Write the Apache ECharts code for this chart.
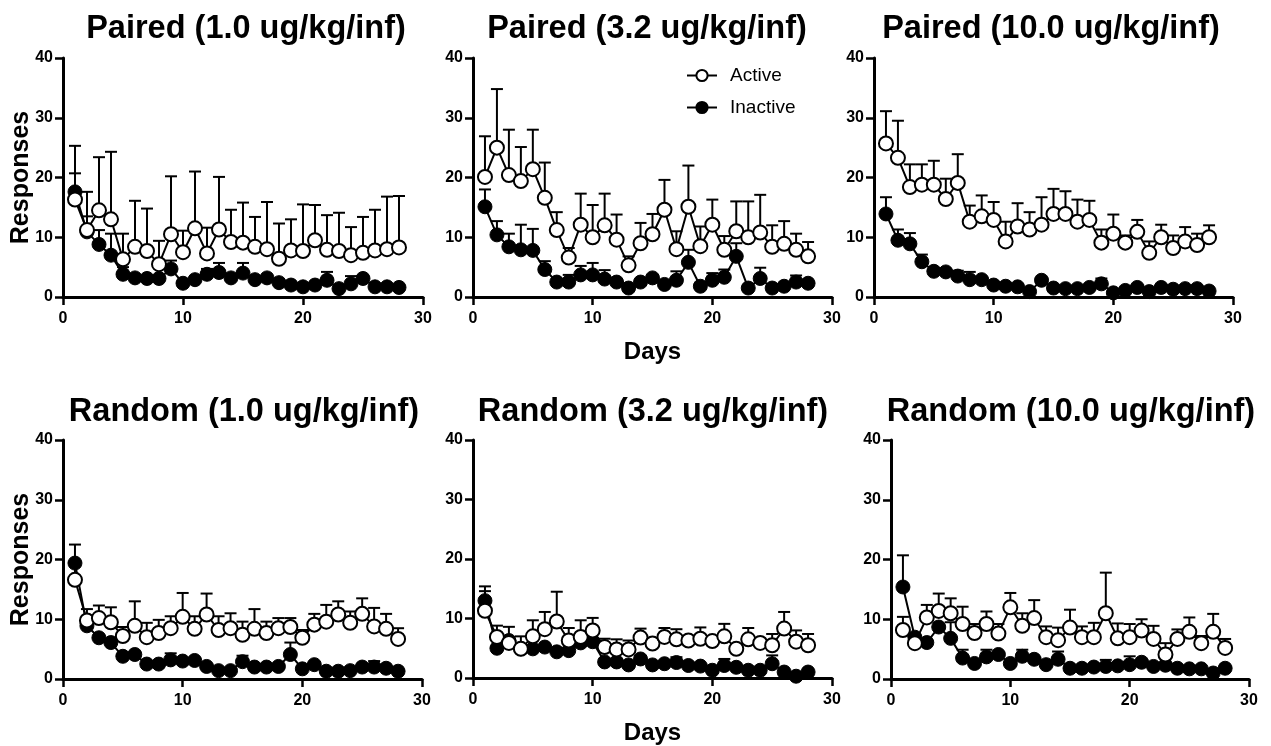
<!DOCTYPE html>
<html><head><meta charset="utf-8">
<script src="https://cdn.jsdelivr.net/npm/echarts@6/dist/echarts.min.js"></script>
<style>html,body{margin:0;padding:0;background:#fff}#c{width:1271px;height:746px}</style>
</head><body><div id="c"></div>
<script>
const days = [1,2,3,4,5,6,7,8,9,10,11,12,13,14,15,16,17,18,19,20,21,22,23,24,25,26,27,28];
const titles = ["Paired (1.0 ug/kg/inf)","Paired (3.2 ug/kg/inf)","Paired (10.0 ug/kg/inf)","Random (1.0 ug/kg/inf)","Random (3.2 ug/kg/inf)","Random (10.0 ug/kg/inf)"];
const yTicks = [0,10,20,30,40];
const xTicks = [0,10,20,30];

const p1Active    = [16.3,11.2,14.5,13.0,6.3,8.4,7.7,5.5,10.5,7.5,11.5,7.3,11.3,9.2,9.1,8.4,8.0,6.4,7.8,7.7,9.5,7.9,7.7,7.0,7.4,7.8,8.0,8.3];
const p1ActiveTop = [25.3,17.6,23.4,24.3,10.6,16.1,14.8,9.4,20.2,11.1,21.0,11.6,20.1,14.6,15.8,13.4,15.9,12.3,13.0,15.5,15.4,13.7,14.1,11.7,13.4,14.6,16.8,16.9];
const p1Inactive    = [17.6,10.9,8.8,7.0,3.8,3.2,3.1,3.1,4.7,2.3,2.9,3.8,4.1,3.2,4.0,2.9,3.2,2.4,2.0,1.7,2.0,2.8,1.4,2.2,3.1,1.7,1.7,1.6];
const p1InactiveTop = [20.7,13.5,11.2,10.6,5.0,3.6,3.5,3.5,6.1,2.7,3.3,4.7,5.7,3.6,5.7,3.3,3.6,2.8,2.4,2.1,2.4,4.2,1.8,3.5,3.5,2.1,2.1,2.0];

const p2Active    = [20.1,25.0,20.4,19.4,21.4,16.6,11.2,6.6,12.1,10.0,12.0,9.6,5.3,9.0,10.5,14.6,8.0,15.1,8.5,12.1,7.9,11.0,10.0,10.8,8.4,8.9,7.9,6.8];
const p2ActiveTop = [26.9,34.8,28.0,25.1,28.0,22.5,14.2,8.2,17.3,15.4,17.3,13.8,6.8,12.4,13.9,19.6,11.0,22.0,11.8,16.3,10.2,16.0,16.0,17.1,12.0,12.7,10.6,9.2];
const p2Inactive    = [15.1,10.4,8.4,7.9,7.8,4.6,2.5,2.5,3.7,3.7,3.0,2.5,1.5,2.5,3.2,2.1,2.8,5.8,1.8,2.8,3.3,6.8,1.5,3.1,1.5,1.8,2.5,2.3];
const p2InactiveTop = [18.0,12.7,10.6,12.1,11.4,6.0,2.9,3.7,5.2,5.7,4.5,2.9,1.9,2.9,3.6,2.5,4.3,7.9,2.2,4.0,4.6,9.0,1.9,4.9,1.9,2.2,3.6,2.7];

const p3Active    = [25.7,23.3,18.4,18.8,18.8,16.4,19.1,12.6,13.5,12.9,9.3,11.8,11.3,12.1,13.9,13.9,12.6,12.9,9.1,10.6,9.1,10.9,7.4,10.0,8.2,9.3,8.7,10.0];
const p3ActiveTop = [31.1,29.5,22.2,22.2,22.8,19.8,23.9,15.3,17.0,15.9,12.6,15.7,14.2,16.7,18.1,17.7,16.3,16.1,11.3,13.8,10.3,12.9,9.3,12.1,10.3,11.7,10.6,12.0];
const p3Inactive    = [13.9,9.5,8.9,5.9,4.3,4.2,3.5,2.9,2.9,2.0,1.8,1.7,0.9,2.8,1.5,1.4,1.4,1.6,2.2,0.7,1.1,1.6,0.9,1.6,1.3,1.4,1.4,1.0];
const p3InactiveTop = [16.7,11.3,10.7,7.1,4.7,4.6,4.4,4.2,3.3,2.4,2.2,2.1,1.3,3.2,1.9,1.8,1.8,2.0,3.1,1.1,1.5,2.0,1.3,2.0,1.7,1.8,1.8,1.4];

const p4Active    = [16.6,9.8,10.2,9.5,7.2,8.9,7.0,7.7,8.5,10.4,8.4,10.8,8.2,8.5,7.4,8.4,7.7,8.5,8.7,6.9,9.1,9.6,10.8,9.4,10.9,8.8,8.4,6.7];
const p4ActiveTop = [19.5,11.7,12.3,12.0,8.7,13.0,9.4,9.9,10.5,14.4,10.5,14.3,10.5,11.0,9.6,11.7,9.6,10.2,10.2,8.2,10.9,12.4,13.0,11.3,13.5,11.9,10.9,8.5];
const p4Inactive    = [19.4,8.9,6.9,6.1,3.8,4.1,2.5,2.5,3.2,3.0,3.1,2.1,1.4,1.4,2.9,2.0,2.0,2.1,4.1,1.7,2.4,1.3,1.3,1.4,2.0,2.0,1.8,1.3];
const p4InactiveTop = [22.5,10.5,7.3,6.5,4.2,4.5,2.9,2.9,4.3,3.4,3.5,2.5,1.8,1.8,3.9,2.4,2.4,2.5,6.1,2.1,2.8,1.7,1.7,1.8,2.4,3.0,2.2,1.7];

const p5Active    = [11.3,6.9,5.9,4.9,7.0,8.2,9.5,6.3,6.9,8.0,5.2,4.8,4.8,6.8,5.8,6.9,6.5,6.3,6.6,6.2,7.0,4.9,6.5,5.9,5.5,8.3,6.1,5.5];
const p5ActiveTop = [15.4,8.8,8.6,7.0,9.7,11.1,14.5,8.4,9.7,10.1,6.6,6.5,6.3,8.3,6.5,8.4,8.2,7.0,8.5,6.8,9.1,5.5,8.4,6.6,7.4,11.1,8.0,7.4];
const p5Inactive    = [13.0,5.0,6.3,4.9,4.9,5.2,4.4,4.6,5.9,6.1,2.7,2.7,2.2,3.2,2.2,2.4,2.6,2.1,2.0,1.3,2.1,1.8,1.3,1.3,2.4,1.0,0.3,1.0];
const p5InactiveTop = [14.6,5.4,6.7,5.3,5.3,5.6,4.8,5.0,6.3,6.5,3.1,3.1,2.6,3.6,2.6,2.8,3.5,2.5,2.4,1.7,3.2,2.2,1.7,1.7,3.8,1.4,0.7,1.4];

const p6Active    = [8.2,6.0,10.3,11.4,11.0,9.2,7.7,9.2,7.6,12.0,8.9,10.2,7.0,6.5,8.6,7.0,7.0,11.0,6.8,7.0,8.1,6.7,4.1,6.7,7.9,6.0,7.9,5.2];
const p6ActiveTop = [10.4,7.1,12.4,14.3,13.5,12.1,9.2,11.3,9.2,14.4,11.0,13.2,8.8,8.6,11.6,8.8,9.4,17.8,9.3,9.2,10.0,8.9,6.0,8.3,10.3,7.2,10.9,6.7];
const p6Inactive    = [15.4,7.0,6.1,8.7,6.8,3.5,2.6,3.7,4.1,2.6,3.8,3.3,2.4,3.3,1.8,1.8,2.0,2.1,2.2,2.4,2.8,2.1,2.3,1.8,1.7,1.7,1.0,1.8];
const p6InactiveTop = [20.7,7.4,6.5,9.1,9.5,4.9,3.0,4.9,4.5,3.0,4.9,3.7,2.8,4.6,2.2,2.2,2.4,3.2,2.6,3.8,3.2,2.5,2.7,2.2,2.1,2.1,1.4,2.2];

const panels = [
  [p1Active,p1ActiveTop,p1Inactive,p1InactiveTop],
  [p2Active,p2ActiveTop,p2Inactive,p2InactiveTop],
  [p3Active,p3ActiveTop,p3Inactive,p3InactiveTop],
  [p4Active,p4ActiveTop,p4Inactive,p4InactiveTop],
  [p5Active,p5ActiveTop,p5Inactive,p5InactiveTop],
  [p6Active,p6ActiveTop,p6Inactive,p6InactiveTop]
];

const FONT = '"Liberation Sans", Arial, Helvetica, sans-serif';
const gridPos = [
  {left:63, top:58, width:360, height:239},
  {left:473, top:58, width:359, height:239},
  {left:874, top:58, width:359, height:239},
  {left:63, top:440, width:359, height:239},
  {left:473, top:440, width:359, height:239},
  {left:891, top:440, width:358, height:239}
];
const titlePos = [[246,13],[647,13],[1051,13],[244,396],[653,396],[1071,396]];

function errRender(params, api){
  const x = api.value(0), m = api.value(1), top = api.value(2);
  const p0 = api.coord([x, m]);
  const p1 = api.coord([x, top]);
  const style = {stroke:'#000', lineWidth:2, fill:null};
  return {type:'group', children:[
    {type:'line', shape:{x1:p0[0], y1:p0[1], x2:p1[0], y2:p1[1]}, style:style},
    {type:'line', shape:{x1:p1[0]-6, y1:p1[1], x2:p1[0]+6, y2:p1[1]}, style:style}
  ]};
}

const grids = [], xAxes = [], yAxes = [], series = [], titleArr = [];
panels.forEach((p, i) => {
  grids.push(Object.assign({containLabel:false}, gridPos[i]));
  const axisCommon = {
    axisLine:{show:true, onZero:false, lineStyle:{color:'#000', width:3}},
    axisTick:{show:true, length:8, lineStyle:{color:'#000', width:2.5}},
    splitLine:{show:false},
    axisLabel:{color:'#000', fontFamily:FONT, fontWeight:'bold', fontSize:16}
  };
  xAxes.push(Object.assign({}, axisCommon, {
    type:'value', gridIndex:i, min:xTicks[0], max:xTicks[xTicks.length-1], interval:10,
    axisLabel:Object.assign({}, axisCommon.axisLabel, {margin:14}),
    name: (i===1||i===4) ? 'Days' : '', nameLocation:'middle', nameGap:43,
    nameTextStyle:{color:'#000', fontFamily:FONT, fontWeight:'bold', fontSize:24}
  }));
  yAxes.push(Object.assign({}, axisCommon, {
    type:'value', gridIndex:i, min:yTicks[0], max:yTicks[yTicks.length-1], interval:10,
    axisLabel:Object.assign({}, axisCommon.axisLabel, {margin:10}),
    name: (i===0||i===3) ? 'Responses' : '', nameLocation:'middle', nameGap:29, nameRotate:90,
    nameMoveOverlap:false,
    nameTextStyle:{color:'#000', fontFamily:FONT, fontWeight:'bold', fontSize:25}
  }));
  titleArr.push({text:titles[i], left:titlePos[i][0], top:titlePos[i][1], textAlign:'center', padding:0,
    textStyle:{color:'#000', fontFamily:FONT, fontWeight:'bold', fontSize:32.5}});
  const [act, actTop, ina, inaTop] = p;
  const inaErr = days.map((d, k) => [d, ina[k], inaTop[k]]);
  const actErr = days.map((d, k) => [d, act[k], actTop[k]]);
  series.push({type:'custom', name:'InactiveErr', xAxisIndex:i, yAxisIndex:i, renderItem:errRender,
    encode:{x:0, y:[1,2]}, data:inaErr, z:1, silent:true});
  series.push({type:'line', name:'Inactive', xAxisIndex:i, yAxisIndex:i, z:2,
    data:days.map((d,k)=>[d, ina[k]]), symbol:'circle', symbolSize:14, showSymbol:true,
    lineStyle:{color:'#000', width:2}, itemStyle:{color:'#000', borderColor:'#000', borderWidth:1}, animation:false});
  series.push({type:'custom', name:'ActiveErr', xAxisIndex:i, yAxisIndex:i, renderItem:errRender,
    encode:{x:0, y:[1,2]}, data:actErr, z:3, silent:true});
  series.push({type:'line', name:'Active', xAxisIndex:i, yAxisIndex:i, z:4,
    data:days.map((d,k)=>[d, act[k]]), symbol:'circle', symbolSize:14, showSymbol:true,
    lineStyle:{color:'#000', width:2}, itemStyle:{color:'#fff', borderColor:'#000', borderWidth:2}, animation:false});
});

const chart = echarts.init(document.getElementById('c'), null, {renderer:'canvas'});
chart.setOption({
  animation:false,
  backgroundColor:'#fff',
  title:titleArr,
  legend:{data:['Active','Inactive'], orient:'vertical', left:681, top:61, itemWidth:30, itemHeight:14, itemGap:13,
    textStyle:{color:'#000', fontFamily:FONT, fontSize:19, padding:[0,0,0,8]}},
  grid:grids, xAxis:xAxes, yAxis:yAxes, series:series
});
</script></body></html>
